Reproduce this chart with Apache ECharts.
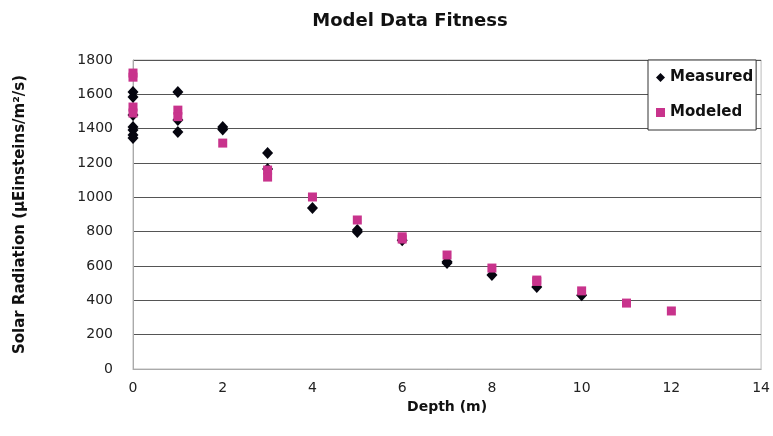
<!DOCTYPE html>
<html><head><meta charset="utf-8">
<script src="https://cdn.jsdelivr.net/npm/echarts@6/dist/echarts.min.js"></script>
<style>html,body{margin:0;padding:0;background:#fff}#c{width:773px;height:436px}</style>
</head><body><div id="c"></div>
<script>
var measuredDepth = [0,0,0,0,0,0,0, 1,1,1, 2,2, 3,3, 4, 5,5, 6, 7,7, 8, 9, 10];
var measuredRad  = [1613,1584,1410,1392,1363,1345,1480, 1613,1450,1380, 1410,1395, 1258,1165, 938, 798,810, 750, 617,625, 548, 478, 430];
var modeledDepth = [0,0,0,0, 1,1, 2, 3,3, 4, 5, 6,6, 7, 8, 9,9, 10, 11, 12];
var modeledRad   = [1724,1700,1526,1491, 1508,1470, 1316, 1159,1118, 1002, 868, 770,757, 664, 588, 518,510, 455, 384, 338];

function pairs(xs, ys){ return xs.map(function(x,i){ return [x, ys[i]]; }); }

var chart = echarts.init(document.getElementById('c'));
var font = 'DejaVu Sans, Liberation Sans, Arial, sans-serif';
chart.setOption({
  animation: false,
  backgroundColor: '#fff',
  title: { text: 'Model Data Fitness', left: 405, top: 7, textAlign: 'center',
    textStyle: { fontFamily: font, fontSize: 18, fontWeight: 'bold', color: '#111' } },
  grid: { left: 133, right: 7, top: 60, bottom: 67, show: true, borderColor: '#bbb', borderWidth: 1 },
  legend: {
    left: 648, top: 60, orient: 'vertical', itemGap: 20, itemWidth: 9, itemHeight: 9,
    backgroundColor: '#fff', borderColor: '#333', borderWidth: 1, padding: [10, 3, 10, 8],
    textStyle: { fontFamily: font, fontSize: 15, fontWeight: 'bold', color: '#111' },
    data: [{ name: 'Measured', icon: 'diamond' }, { name: 'Modeled', icon: 'rect' }]
  },
  xAxis: {
    type: 'value', min: 0, max: 14, interval: 2,
    name: 'Depth (m)', nameLocation: 'middle', nameGap: 30,
    nameTextStyle: { fontFamily: font, fontSize: 14, fontWeight: 'bold', color: '#111' },
    axisLine: { show: true, lineStyle: { color: '#aaa' } },
    axisTick: { show: false },
    splitLine: { show: false },
    axisLabel: { fontFamily: font, fontSize: 14, color: '#222', margin: 12 }
  },
  yAxis: {
    type: 'value', min: 0, max: 1800, interval: 200,
    name: 'Solar Radiation (µEinsteins/m²/s)', nameLocation: 'middle', nameGap: 105, nameRotate: 90,
    nameTextStyle: { fontFamily: font, fontSize: 15, fontWeight: 'bold', color: '#111' },
    axisLine: { show: true, lineStyle: { color: '#aaa' } },
    axisTick: { show: false },
    splitLine: { show: true, lineStyle: { color: '#555', width: 1 } },
    axisLabel: { fontFamily: font, fontSize: 14, color: '#222', margin: 20,
      formatter: function(v){ return String(v); } }
  },
  series: [
    { name: 'Measured', type: 'scatter', symbol: 'diamond', symbolSize: [11, 12],
      itemStyle: { color: '#05050f', opacity: 1 }, data: pairs(measuredDepth, measuredRad), z: 2 },
    { name: 'Modeled', type: 'scatter', symbol: 'rect', symbolSize: 9,
      itemStyle: { color: '#c8338c', opacity: 1 }, data: pairs(modeledDepth, modeledRad), z: 3 }
  ]
});
</script></body></html>
